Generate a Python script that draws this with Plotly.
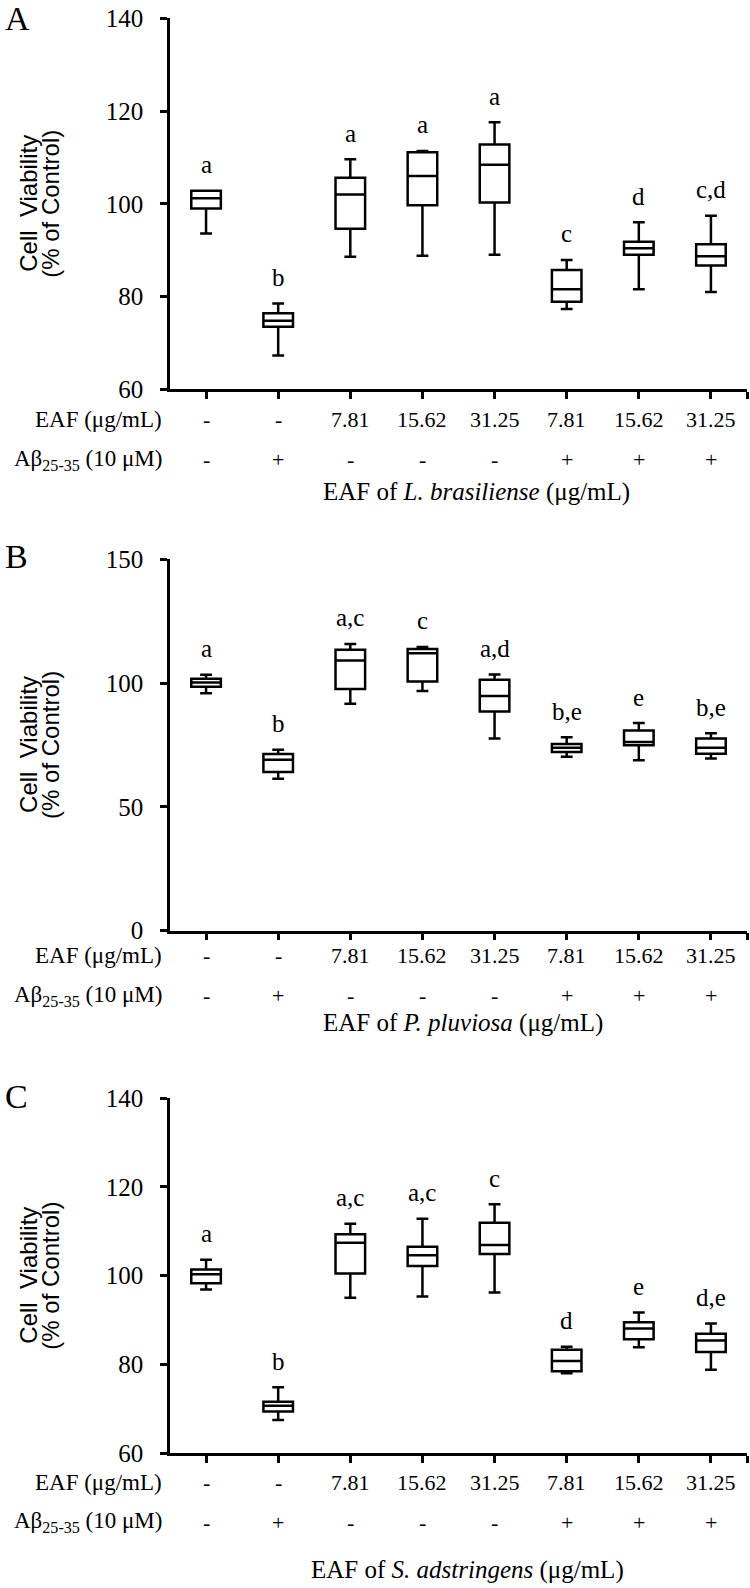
import plotly.graph_objects as go

# ---------------- data ----------------
EAF_ROW = ['-', '-', '7.81', '15.62', '31.25', '7.81', '15.62', '31.25']
ABETA_ROW = ['-', '+', '-', '-', '-', '+', '+', '+']

A_low = [93.6, 67.3, 88.6, 88.8, 89.0, 77.3, 81.6, 81.0]
A_q1 = [99.0, 73.5, 94.6, 99.7, 100.3, 78.9, 89.0, 86.7]
A_med = [101.2, 74.8, 102.0, 106.0, 108.4, 81.6, 90.4, 88.7]
A_q3 = [102.8, 76.4, 105.6, 111.1, 112.8, 85.7, 91.8, 91.3]
A_high = [102.8, 78.5, 109.6, 111.4, 117.6, 87.9, 96.0, 97.4]
A_letters = ['a', 'b', 'a', 'a', 'a', 'c', 'd', 'c,d']

B_low = [95.9, 61.3, 91.6, 96.8, 77.6, 70.2, 68.8, 69.5]
B_q1 = [98.5, 64.0, 97.6, 100.6, 88.5, 72.1, 74.9, 71.4]
B_med = [100.2, 69.0, 109.1, 112.0, 94.8, 73.8, 76.2, 73.8]
B_q3 = [101.7, 71.3, 113.4, 113.8, 101.3, 75.4, 80.8, 77.6]
B_high = [103.3, 73.0, 115.8, 114.6, 103.4, 78.1, 83.8, 79.7]
B_letters = ['a', 'b', 'a,c', 'c', 'a,d', 'b,e', 'e', 'b,e']

C_low = [96.9, 67.5, 95.0, 95.3, 96.2, 78.0, 83.9, 78.8]
C_q1 = [98.3, 69.4, 100.5, 102.2, 104.9, 78.5, 85.7, 82.8]
C_med = [100.3, 70.7, 107.4, 104.6, 106.9, 80.8, 88.1, 85.4]
C_q3 = [101.4, 71.6, 109.3, 106.5, 111.9, 83.3, 89.5, 86.9]
C_high = [103.6, 74.9, 111.7, 112.8, 116.1, 84.0, 91.7, 89.2]
C_letters = ['a', 'b', 'a,c', 'a,c', 'c', 'd', 'e', 'd,e']

PANEL_LETTERS = ['A', 'B', 'C']
SPECIES = ['L. brasiliense', 'P. pluviosa', 'S. adstringens']
Y_RANGES = [[60, 140], [0, 150], [60, 140]]
Y_DTICK = [20, 50, 20]

# ---------------- layout constants ----------------
W, H = 750, 1588
X_LEFT, X_RIGHT = 170, 747
SERIF = 'Liberation Serif, Times New Roman, serif'
SANS = 'Liberation Sans, Arial, sans-serif'
LW = 2.5

panels = [
    dict(top=18.3, bottom=389.3, row1=419, row2=459.5, title=492, title_x=476, letter_y=18.5,
         low=A_low, q1=A_q1, med=A_med, q3=A_q3, high=A_high, letters=A_letters),
    dict(top=559.3, bottom=930.5, row1=955, row2=995.5, title=1023, title_x=463, letter_y=556,
         low=B_low, q1=B_q1, med=B_med, q3=B_q3, high=B_high, letters=B_letters),
    dict(top=1098, bottom=1453.3, row1=1482, row2=1522, title=1570, title_x=467, letter_y=1096,
         low=C_low, q1=C_q1, med=C_med, q3=C_q3, high=C_high, letters=C_letters),
]


def py(v):
    return 1 - v / H


def px(v):
    return v / W


fig = go.Figure()
annotations = []
n = len(EAF_ROW)
xs = list(range(n))

for k, p in enumerate(panels):
    sfx = '' if k == 0 else str(k + 1)
    xa, ya = 'x' + sfx, 'y' + sfx
    fig.add_trace(go.Box(
        x=xs, q1=p['q1'], median=p['med'], q3=p['q3'],
        lowerfence=p['low'], upperfence=p['high'],
        xaxis=xa, yaxis=ya, width=0.41, whiskerwidth=0.4,
        fillcolor='white', line=dict(color='black', width=LW),
        boxpoints=False, showlegend=False, hoverinfo='skip'))

    fig.update_layout(**{
        'xaxis' + sfx: dict(domain=[px(X_LEFT), px(X_RIGHT)], anchor=ya, range=[-0.5, n - 0.5],
                            showline=True, linecolor='black', linewidth=LW,
                            ticks='outside', ticklen=7, tickwidth=LW, tickcolor='black',
                            tickvals=xs + [n - 0.5], showticklabels=False, automargin=False,
                            showgrid=False, zeroline=False, fixedrange=True),
        'yaxis' + sfx: dict(domain=[py(p['bottom']), py(p['top'])], anchor=xa,
                            range=Y_RANGES[k], dtick=Y_DTICK[k], tick0=0,
                            showline=True, linecolor='black', linewidth=LW,
                            ticks='outside', ticklen=7, tickwidth=LW, tickcolor='black',
                            tickfont=dict(family=SERIF, size=25, color='black'),
                            ticklabelstandoff=12, automargin=False,
                            showgrid=False, zeroline=False, fixedrange=True),
    })

    # significance letters
    for i in xs:
        annotations.append(dict(x=i, y=p['high'][i], xref=xa, yref=ya, text=p['letters'][i],
                                showarrow=False, yanchor='middle', yshift=26,
                                font=dict(family=SERIF, size=25, color='black')))
    # treatment rows
    for i in xs:
        annotations.append(dict(x=i, y=py(p['row1']), xref=xa, yref='paper', text=EAF_ROW[i],
                                showarrow=False, yanchor='middle',
                                font=dict(family=SERIF, size=22, color='black')))
        annotations.append(dict(x=i, y=py(p['row2']), xref=xa, yref='paper', text=ABETA_ROW[i],
                                showarrow=False, yanchor='middle',
                                font=dict(family=SERIF, size=22, color='black')))
    annotations.append(dict(x=px(164), y=py(p['row1']), xref='paper', yref='paper',
                            text='EAF (μg/mL)', showarrow=False, xanchor='right', yanchor='middle',
                            font=dict(family=SERIF, size=23, color='black')))
    annotations.append(dict(x=px(164), y=py(p['row2']), xref='paper', yref='paper',
                            text='Aβ<sub>25-35</sub> (10 μM)', showarrow=False, xanchor='right',
                            yanchor='middle', font=dict(family=SERIF, size=23, color='black')))
    # x title
    annotations.append(dict(x=px(p['title_x']), y=py(p['title']), xref='paper', yref='paper',
                            text='EAF of <i>%s</i> (μg/mL)' % SPECIES[k], showarrow=False,
                            xanchor='center', yanchor='middle',
                            font=dict(family=SERIF, size=25, color='black')))
    # y title (two lines)
    yc = py((p['top'] + p['bottom']) / 2)
    annotations.append(dict(x=px(29), y=yc, xref='paper', yref='paper', text='Cell  Viability',
                            textangle=-90, showarrow=False, xanchor='center', yanchor='middle',
                            font=dict(family=SANS, size=24, color='black')))
    annotations.append(dict(x=px(51), y=yc, xref='paper', yref='paper', text='(% of Control)',
                            textangle=-90, showarrow=False, xanchor='center', yanchor='middle',
                            font=dict(family=SANS, size=24, color='black')))
    # panel letter
    annotations.append(dict(x=px(3), y=py(p['letter_y']), xref='paper', yref='paper',
                            text=PANEL_LETTERS[k], showarrow=False, xanchor='left', yanchor='middle',
                            font=dict(family=SERIF, size=34, color='black')))

fig.update_layout(width=W, height=H, margin=dict(l=0, r=0, t=0, b=0, autoexpand=False),
                  paper_bgcolor='white', plot_bgcolor='white',
                  annotations=annotations, showlegend=False)

fig.write_html('out.html', config={'displayModeBar': False},
               post_script="document.body.style.margin='0';document.body.style.padding='0';")
